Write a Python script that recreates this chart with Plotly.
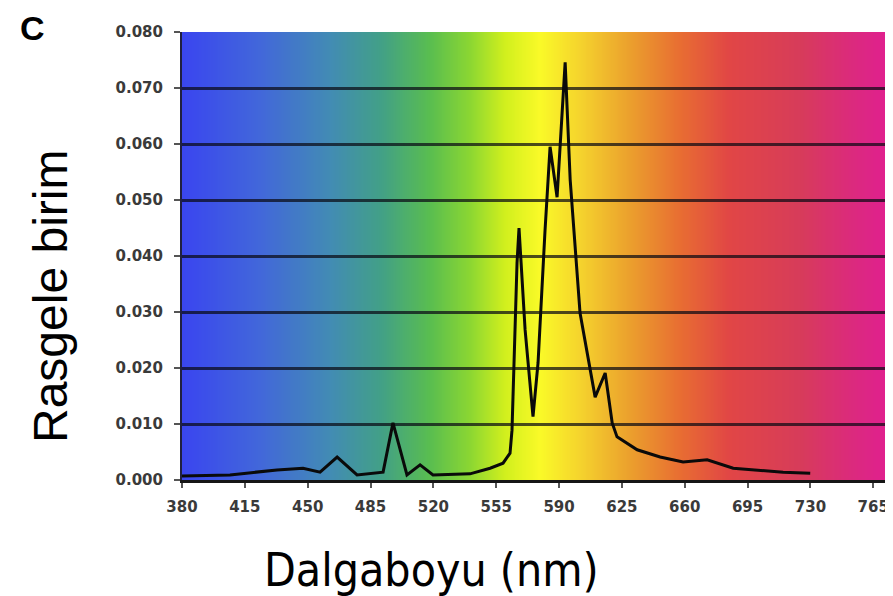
import base64
import struct
import zlib

import numpy as np
import plotly.graph_objects as go

# ---------------- data ----------------
wavelength = [380, 406.7, 432.9, 447.4, 456.9, 466.4, 477.5, 492, 497.5, 505.3,
              512.6, 519.8, 540.4, 551.6, 558.8, 562.7, 563.8, 566.6, 567.7, 571.1,
              575.5, 578.3, 582.2, 585, 588.9, 593.4, 596.2, 601.7, 610.1, 615.7,
              619.6, 622.3, 633.5, 646.3, 659.1, 672.5, 687, 714.8, 729.9]
intensity = [0.0007, 0.0009, 0.0018, 0.0021, 0.0014, 0.0041, 0.0009, 0.0014, 0.0102, 0.0009,
             0.0027, 0.0009, 0.0011, 0.0021, 0.0030, 0.0048, 0.0089, 0.0388, 0.0450, 0.0268,
             0.0113, 0.0209, 0.0446, 0.0595, 0.0505, 0.0746, 0.0536, 0.0298, 0.0148, 0.0191,
             0.0102, 0.0077, 0.0054, 0.0041, 0.0032, 0.0036, 0.0021, 0.0014, 0.0012]

x_ticks = [380, 415, 450, 485, 520, 555, 590, 625, 660, 695, 730, 765]
y_ticks = [0.0, 0.01, 0.02, 0.03, 0.04, 0.05, 0.06, 0.07, 0.08]
y_ticktext = ["0.000", "0.010", "0.020", "0.030", "0.040", "0.050", "0.060", "0.070", "0.080"]

x_title = "Dalgaboyu (nm)"
y_title = "Rasgele birim"
panel_label = "C"

# background spectrum gradient stops (nm, RGB)
grad_nm = [380, 423.5, 462.5, 490.3, 518.2, 540.4, 560, 579.4, 601.7, 629.6, 657.4, 685.3, 724.3, 757.7, 776.1]
grad_rgb = [(58, 70, 240), (66, 104, 218), (66, 140, 180), (66, 160, 136), (90, 190, 80),
            (140, 215, 50), (210, 240, 30), (250, 250, 40), (245, 212, 45), (235, 160, 45),
            (232, 110, 50), (225, 70, 70), (215, 60, 90), (220, 40, 130), (225, 30, 145)]

X_MIN, X_MAX = 380, 776
Y_MIN, Y_MAX = 0.0, 0.08

# ---------------- gradient image ----------------
def png_data_uri(width, rows):
    raw = b"".join(b"\x00" + r for r in rows)

    def chunk(tag, data):
        c = struct.pack(">I", len(data)) + tag + data
        return c + struct.pack(">I", zlib.crc32(tag + data) & 0xFFFFFFFF)

    png = (b"\x89PNG\r\n\x1a\n"
           + chunk(b"IHDR", struct.pack(">IIBBBBB", width, len(rows), 8, 2, 0, 0, 0))
           + chunk(b"IDAT", zlib.compress(raw))
           + chunk(b"IEND", b""))
    return "data:image/png;base64," + base64.b64encode(png).decode()


W = 400
nm_pix = np.linspace(X_MIN, X_MAX, W)
chan = [np.interp(nm_pix, grad_nm, [c[i] for c in grad_rgb]) for i in range(3)]
row = bytes(np.stack(chan, axis=1).round().astype(np.uint8).flatten().tolist())
uri = png_data_uri(W, [row, row])

# ---------------- figure ----------------
fig = go.Figure()
fig.add_trace(go.Scatter(x=wavelength, y=intensity, mode="lines",
                         line=dict(color="#0a0a0a", width=3), showlegend=False,
                         hoverinfo="x+y"))

fig.add_layout_image(dict(source=uri, xref="x", yref="y", x=X_MIN, y=Y_MAX,
                          sizex=X_MAX - X_MIN, sizey=Y_MAX - Y_MIN, sizing="stretch",
                          xanchor="left", yanchor="top", layer="below"))

# page body has an 8 px margin; screen px = figure px + 8
OFF = 8
FIG_W, FIG_H = 893 - OFF, 596 - OFF
ML, MR, MT, MB = 182 - OFF, 0, 32 - OFF, 596 - 480
PW, PH = FIG_W - ML - MR, FIG_H - MT - MB


def px_x(sx):
    return (sx - OFF - ML) / PW


def px_y(sy):
    return (FIG_H - MB - (sy - OFF)) / PH


tick_font = dict(family="DejaVu Sans", size=15, color="#3a3a3a", weight="bold")

fig.update_layout(
    width=FIG_W, height=FIG_H,
    margin=dict(l=ML, r=MR, t=MT, b=MB, autoexpand=False),
    paper_bgcolor="white", plot_bgcolor="white",
    xaxis=dict(range=[X_MIN, X_MAX], tickvals=x_ticks, ticktext=[str(v) for v in x_ticks],
               showgrid=False, zeroline=False, showline=True, linecolor="#151515", linewidth=3,
               ticks="outside", ticklen=5, tickwidth=2, tickcolor="#555555",
               tickfont=tick_font, ticklabelstandoff=6, automargin=False),
    yaxis=dict(range=[Y_MIN, Y_MAX], tickvals=y_ticks, ticktext=y_ticktext,
               showgrid=True, gridcolor="rgba(10,10,20,0.72)", gridwidth=3, zeroline=False,
               showline=True, linecolor="#202040", linewidth=2,
               ticks="outside", ticklen=6, tickwidth=2, tickcolor="#555555",
               tickfont=tick_font, ticklabelstandoff=8, automargin=False),
    annotations=[
        dict(text=panel_label, xref="paper", yref="paper", x=px_x(32), y=px_y(28),
             xanchor="center", yanchor="middle", showarrow=False,
             font=dict(family="Liberation Sans", size=34, color="black", weight="bold")),
        dict(text=y_title, xref="paper", yref="paper", x=px_x(50), y=px_y(297),
             xanchor="center", yanchor="middle", showarrow=False, textangle=-90,
             font=dict(family="Liberation Sans", size=48, color="black")),
        dict(text=x_title, xref="paper", yref="paper", x=px_x(431), y=px_y(570),
             xanchor="center", yanchor="middle", showarrow=False,
             font=dict(family="DejaVu Sans Condensed", size=46, color="black")),
    ],
)

fig.write_html("out.html")
